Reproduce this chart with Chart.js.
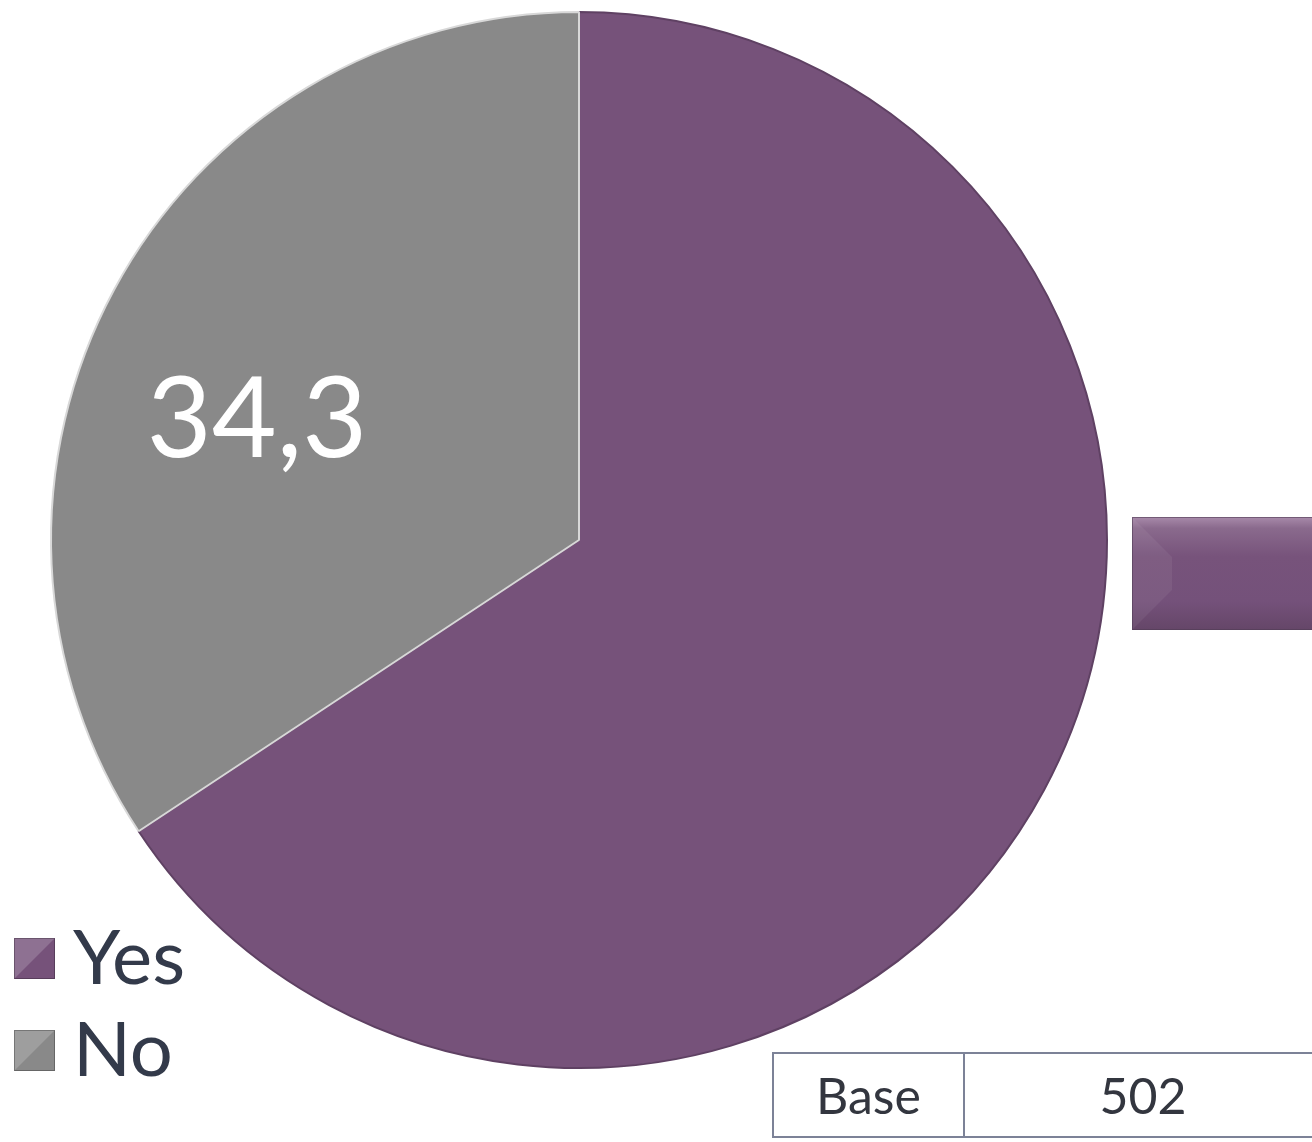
<!DOCTYPE html>
<html>
<head>
<meta charset="utf-8">
<script src="https://cdn.jsdelivr.net/npm/chart.js@4.4.1/dist/chart.umd.min.js"></script>
<style>
html, body { margin: 0; padding: 0; background: #ffffff; }
#wrap { position: relative; width: 1312px; height: 1142px; overflow: hidden; }
canvas { display: block; }
#base {
    position: absolute; left: 772px; top: 1052px; width: 760px;
    border-collapse: collapse; table-layout: fixed;
    font-family: Lato, "Noto Sans", sans-serif; font-size: 50px; color: #33363f;
}
#base td { border: 2px solid #7c8297; height: 82px; text-align: center; padding: 0; }
</style>
</head>
<body>
<div id="wrap">
<canvas id="pie" width="1312" height="1142"></canvas>
<table id="base"><tr><td style="width:189px">Base</td><td style="width:356px">502</td><td></td></tr></table>
</div>
<script>

const categories = ["Yes", "No"]
const shares = [65.7, 34.3]
const shareLabels = ["65,7", "34,3"]
const sliceColors = ["#76527a", "#898989"]

const textColor = "#333a4a"
const labelFont = "112px Lato, 'Noto Sans', sans-serif"

// value labels: white text inside the grey slice, boxed label out to the right for Yes
const valueLabels = {
    id: "valueLabels",
    afterDatasetsDraw(chart){
        const ctx = chart.ctx
        const arcs = chart.getDatasetMeta(0).data
        ctx.save()
        arcs.forEach((arc, i)=>{
            const p = arc.getProps(["x","y","startAngle","endAngle","outerRadius"], true)
            if(i === 0){
                // outside label box with a soft bevel
                const left = p.x + p.outerRadius + 25
                const top = p.y - 23
                const w = 520, h = 113
                const g = ctx.createLinearGradient(0, top, 0, top + h)
                g.addColorStop(0, "#a88aaa")
                g.addColorStop(0.1, "#8a6a8d")
                g.addColorStop(0.35, "#77537b")
                g.addColorStop(0.75, "#74517a")
                g.addColorStop(1, "#654668")
                ctx.fillStyle = g
                ctx.fillRect(left, top, w, h)
                ctx.fillStyle = "rgba(255,255,255,0.06)"
                ctx.beginPath()
                ctx.moveTo(left, top); ctx.lineTo(left + 40, top + 40)
                ctx.lineTo(left + 40, top + h - 40); ctx.lineTo(left, top + h)
                ctx.closePath(); ctx.fill()
                ctx.strokeStyle = "rgba(80,60,85,0.6)"
                ctx.lineWidth = 1
                ctx.strokeRect(left + 0.5, top + 0.5, w, h - 1)
                ctx.fillStyle = "#ffffff"
                ctx.font = labelFont
                ctx.textAlign = "right"
                ctx.textBaseline = "middle"
                ctx.fillText(shareLabels[i], left + w - 30, top + h / 2)
            } else {
                const a = p.startAngle + (p.endAngle - p.startAngle) * 0.435
                const r = p.outerRadius * 0.65
                ctx.fillStyle = "#ffffff"
                ctx.font = labelFont
                ctx.textAlign = "center"
                ctx.textBaseline = "middle"
                ctx.fillText(shareLabels[i], p.x + Math.cos(a) * r, p.y + Math.sin(a) * r)
            }
        })
        ctx.restore()
    }
}

// legend in the lower left corner
const cornerLegend = {
    id: "cornerLegend",
    afterDraw(chart){
        const ctx = chart.ctx
        ctx.save()
        categories.forEach((name, i)=>{
            const x = 14, y = 938 + i * 92, s = 41
            ctx.fillStyle = sliceColors[i]
            ctx.fillRect(x, y, s, s)
            ctx.fillStyle = "rgba(255,255,255,0.18)"
            ctx.beginPath()
            ctx.moveTo(x, y); ctx.lineTo(x + s, y); ctx.lineTo(x, y + s)
            ctx.closePath(); ctx.fill()
            ctx.strokeStyle = "rgba(0,0,0,0.25)"
            ctx.lineWidth = 1
            ctx.strokeRect(x + 0.5, y + 0.5, s - 1, s - 1)
            ctx.fillStyle = textColor
            ctx.font = "76px Lato, 'Noto Sans', sans-serif"
            ctx.textAlign = "left"
            ctx.textBaseline = "middle"
            ctx.fillText(name, x + s + 18, y + s / 2 + 1)
        })
        ctx.restore()
    }
}

new Chart(document.getElementById("pie"), {
    type: "pie",
    data: {
        labels: categories,
        datasets: [{
            data: shares,
            backgroundColor: sliceColors,
            borderColor: ["#5f4163", "#d8d8d8"],
            borderWidth: 2
        }]
    },
    options: {
        responsive: false,
        animation: false,
        layout: { padding: { left: 50, right: 204, top: 11, bottom: 73 } },
        plugins: {
            legend: { display: false },
            tooltip: { enabled: false }
        }
    },
    plugins: [valueLabels, cornerLegend]
})
</script>
</body>
</html>
